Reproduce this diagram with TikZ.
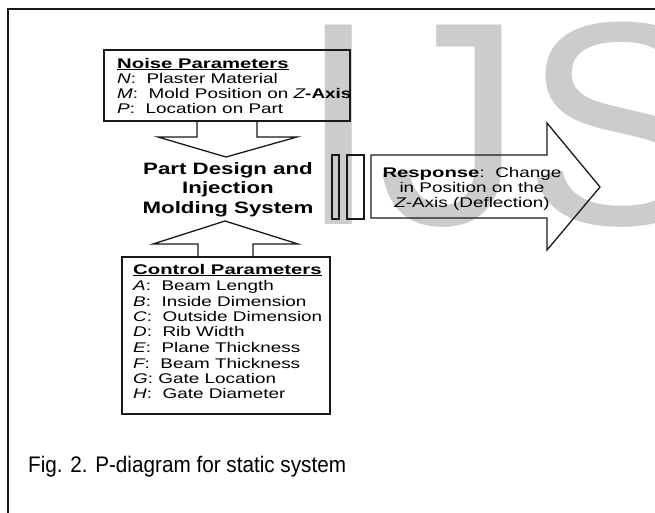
\documentclass[tikz,border=0pt]{standalone}
\usepackage{fontspec}
\setmainfont{Liberation Sans}
\newfontfamily\bxr[FakeStretch=1.35]{Liberation Sans}
\newfontfamily\bxb[FakeStretch=1.45]{Liberation Sans}
\newfontfamily\plain{Liberation Sans}
\newfontfamily\capfont[FakeStretch=0.92]{Liberation Sans}
\begin{document}
\begin{tikzpicture}[x=1pt,y=-1pt,
  frame/.style={line width=1.6pt,draw=black!90},
  boxline/.style={line width=1.8pt,draw=black!90},
  arr/.style={line width=1.3pt,draw=black!90,line join=miter},
  lt/.style={anchor=base west,inner sep=0pt,text height=10pt,text depth=2.5pt,font=\bxr\fontsize{14}{16}\selectfont},
  bt/.style={anchor=base west,inner sep=0pt,text height=10pt,text depth=2.5pt,font=\bxb\bfseries\fontsize{14}{16}\selectfont},
  ct/.style={anchor=base,inner sep=0pt,text height=12pt,text depth=3.5pt,font=\bxr\bfseries\fontsize{16.5}{19}\selectfont},
  rt/.style={anchor=base,inner sep=0pt,text height=10pt,text depth=2.5pt,font=\bxr\fontsize{14}{16}\selectfont},
  wm/.style={anchor=base west,inner sep=0pt,text=black!20,font=\plain\fontsize{290}{300}\selectfont}
]
\useasboundingbox (0,0) rectangle (655,512);
% watermark
\begin{scope}
\clip (0,0) rectangle (655,512);
\node[wm] (wmark) at (298,224) {IJS};
\end{scope}
% outer frame
\coordinate (ftr) at (656,9);
\coordinate (ftl) at (8,9);
\coordinate (fbl) at (8,513);
\draw[frame] (ftr) -- (ftl) -- (fbl);
% noise box
\coordinate (nbtl) at (104,50);
\coordinate (nbbr) at (350,121);
\draw[boxline] (nbtl) rectangle (nbbr);
\node[bt] (n0) at (117,68) {\underline{Noise Parameters}};
\node[lt] (n1) at (117,83) {\itshape N\upshape:\ \ Plaster Material};
\node[lt] (n2) at (117,98) {\itshape M\upshape:\ \ Mold Position on \itshape Z\upshape\bfseries -Axis};
\node[lt] (n3) at (117,113) {\itshape P\upshape:\ \ Location on Part};
% down arrow
\coordinate (da1) at (197,121);
\coordinate (da2) at (257,121);
\coordinate (datip) at (226,157);
\draw[arr] (da1) -- (197,137) -- (158,137) -- (datip) -- (297,137) -- (257,137) -- (da2);
% center text
\node[ct] (c1) at (228,174) {Part Design and};
\node[ct] (c2) at (228,193) {Injection};
\node[ct] (c3) at (228,213) {Molding System};
% up arrow
\coordinate (ua1) at (198,257);
\coordinate (ua2) at (253,257);
\coordinate (uatip) at (225,221);
\draw[arr] (ua1) -- (198,244) -- (153,244) -- (uatip) -- (298,244) -- (253,244) -- (ua2);
% control box
\coordinate (cbtl) at (122,257);
\coordinate (cbbr) at (330,414);
\draw[boxline] (cbtl) rectangle (cbbr);
\node[bt] (k0) at (133,274) {\underline{Control Parameters}};
\node[lt] (k1) at (133,290) {\itshape A\upshape:\ \ Beam Length};
\node[lt] (k2) at (133,306) {\itshape B\upshape:\ \ Inside Dimension};
\node[lt] (k3) at (133,321) {\itshape C\upshape:\ \ Outside Dimension};
\node[lt] (k4) at (133,336) {\itshape D\upshape:\ \ Rib Width};
\node[lt] (k5) at (133,352) {\itshape E\upshape:\ \ Plane Thickness};
\node[lt] (k6) at (133,368) {\itshape F\upshape:\ \ Beam Thickness};
\node[lt] (k7) at (133,383) {\itshape G\upshape: Gate Location};
\node[lt] (k8) at (133,398) {\itshape H\upshape:\ \ Gate Diameter};
% bars
\coordinate (b1a) at (332,155);
\coordinate (b1b) at (339,219);
\coordinate (b2a) at (347,155);
\coordinate (b2b) at (364,219);
\draw[arr] (b1a) rectangle (b1b);
\draw[arr] (b2a) rectangle (b2b);
% response arrow
\coordinate (ra0) at (371,155);
\coordinate (ratip) at (600,187);
\draw[arr] (ra0) -- (547,155) -- (547,123) -- (ratip) -- (547,250) -- (547,218) -- (371,218) -- cycle;
\node[rt] (r1) at (472,177) {{\bxb\bfseries Response}:\ \ Change};
\node[rt] (r2) at (472,192) {in Position on the};
\node[rt] (r3) at (472,207) {\itshape Z\upshape -Axis (Deflection)};
% caption
\node[anchor=base west,inner sep=0pt,font=\capfont\fontsize{22.5}{26}\selectfont] (cap) at (28,472) {Fig. 2. P-diagram for static system};
\end{tikzpicture}
\end{document}
